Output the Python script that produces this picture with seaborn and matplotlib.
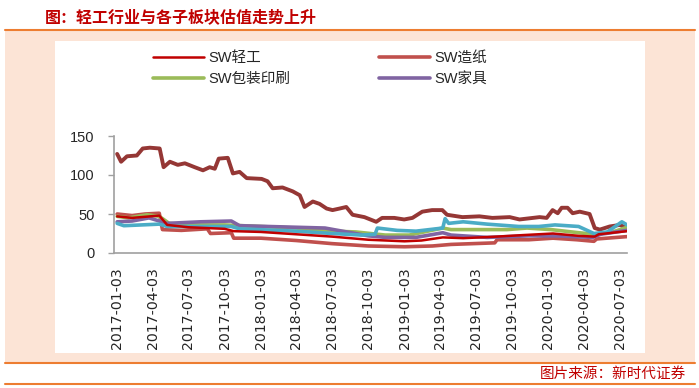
import pandas as pd
import matplotlib
matplotlib.use('Agg')
import matplotlib.pyplot as plt
from matplotlib.patches import Rectangle
from matplotlib.lines import Line2D
import seaborn as sns

# --- data (PE, TTM) ---
qinggong_dates = ['2017-01-03', '2017-02-10', '2017-04-20', '2017-05-10', '2017-07-03', '2017-10-03',
                  '2017-10-26', '2018-01-03', '2018-04-03', '2018-07-03', '2018-10-03', '2019-01-03',
                  '2019-02-15', '2019-04-10', '2019-06-01', '2019-08-25', '2019-11-01', '2020-01-15',
                  '2020-03-20', '2020-04-30', '2020-05-10', '2020-07-21']
qinggong_vals = [47, 45, 48, 36, 33, 31, 28, 27, 24, 21, 17, 15, 16, 20, 19, 21, 23, 25, 22, 21, 24, 28]

zaozhi_dates = ['2017-01-03', '2017-02-10', '2017-03-15', '2017-04-20', '2017-04-28', '2017-06-15',
                '2017-08-20', '2017-08-28', '2017-10-20', '2017-10-26', '2018-01-03', '2018-04-03',
                '2018-07-03', '2018-10-03', '2019-01-03', '2019-03-15', '2019-05-01', '2019-08-20',
                '2019-08-26', '2019-11-15', '2020-01-15', '2020-03-15', '2020-04-28', '2020-05-05',
                '2020-07-21']
zaozhi_vals = [50, 48, 50, 51, 30, 29, 31, 25, 26, 19, 19, 16, 12, 9, 8, 9, 11, 13, 17, 17, 19, 17, 15, 18, 21]

baozhuang_dates = ['2017-01-03', '2017-02-01', '2017-03-20', '2017-04-20', '2017-05-15', '2017-07-03',
                   '2017-10-03', '2018-01-03', '2018-04-03', '2018-07-03', '2018-09-01', '2018-11-15',
                   '2019-01-15', '2019-04-10', '2019-05-01', '2019-09-20', '2019-11-10', '2020-01-10',
                   '2020-03-20', '2020-05-01', '2020-06-15', '2020-07-21']
baozhuang_vals = [47, 45, 49, 47, 38, 36, 36, 34, 32, 28, 27, 23, 23, 32, 30, 30, 32, 30, 26, 24, 27, 33]

jiaju_dates = ['2017-01-03', '2017-02-10', '2017-03-25', '2017-05-10', '2017-08-03', '2017-10-20',
               '2017-11-10', '2018-04-03', '2018-06-15', '2018-08-20', '2018-10-03', '2018-11-15',
               '2019-02-01', '2019-04-10', '2019-05-01', '2019-08-01', '2019-11-15', '2020-01-20',
               '2020-04-25', '2020-05-15', '2020-07-21']
jiaju_vals = [40, 41, 45, 38, 40, 41, 35, 33, 32, 26, 22, 20, 20, 26, 23, 20, 22, 22, 20, 24, 29]

# unlabelled series (legend only shows four)
cyan_dates = ['2017-01-03', '2017-01-20', '2017-04-20', '2017-05-10', '2017-10-20', '2017-11-10',
              '2018-04-03', '2018-07-03', '2018-09-15', '2018-10-20', '2018-10-26', '2018-12-15',
              '2019-02-01', '2019-04-10', '2019-04-16', '2019-04-25', '2019-06-01', '2019-08-01',
              '2019-10-20', '2019-12-10', '2020-01-20', '2020-03-20', '2020-04-28', '2020-06-01',
              '2020-07-08', '2020-07-21']
cyan_vals = [38, 35, 37, 34, 34, 31, 28, 25, 23, 24, 32, 29, 28, 32, 44, 38, 40, 37, 34, 34, 36, 34, 25, 27, 40, 36]

brown_dates = ['2017-01-03', '2017-01-13', '2017-01-28', '2017-02-22', '2017-03-09', '2017-03-27',
               '2017-04-21', '2017-05-01', '2017-05-17', '2017-06-06', '2017-06-24', '2017-07-19',
               '2017-08-09', '2017-08-26', '2017-09-08', '2017-09-18', '2017-10-11', '2017-10-24',
               '2017-11-10', '2017-11-28', '2018-01-05', '2018-01-20', '2018-02-02', '2018-02-27',
               '2018-03-25', '2018-04-12', '2018-04-24', '2018-05-15', '2018-06-01', '2018-06-19',
               '2018-07-04', '2018-07-22', '2018-08-08', '2018-08-24', '2018-09-23', '2018-10-13',
               '2018-10-23', '2018-11-07', '2018-12-08', '2019-01-02', '2019-01-23', '2019-02-17',
               '2019-03-14', '2019-04-09', '2019-04-21', '2019-05-30', '2019-07-12', '2019-08-14',
               '2019-09-27', '2019-10-22', '2019-12-12', '2019-12-30', '2020-01-14', '2020-01-27',
               '2020-02-06', '2020-02-21', '2020-03-05', '2020-03-23', '2020-04-17', '2020-04-30',
               '2020-05-13', '2020-06-07', '2020-07-03', '2020-07-21']
brown_vals = [127, 117, 124, 125, 134, 135, 134, 110, 117, 113, 115, 110,
              106, 110, 108, 121, 122, 102, 104, 96, 95, 92, 83, 84,
              79, 74, 59, 66, 63, 57, 55, 57, 59, 49, 46, 42,
              40, 45, 45, 43, 45, 53, 55, 55, 49, 46, 47, 45,
              46, 43, 46, 45, 55, 51, 58, 58, 51, 53, 50, 32,
              30, 34, 36, 32]

tick_labels = ['2017-01-03', '2017-04-03', '2017-07-03', '2017-10-03', '2018-01-03', '2018-04-03',
               '2018-07-03', '2018-10-03', '2019-01-03', '2019-04-03', '2019-07-03', '2019-10-03',
               '2020-01-03', '2020-04-03', '2020-07-03']

title = '图：轻工行业与各子板块估值走势上升'
source = '图片来源：新时代证券'

sns.set_style('white')
plt.rcParams['font.family'] = ['Liberation Sans', 'Noto Sans CJK SC', 'DejaVu Sans']

W, H = 699, 388
fig = plt.figure(figsize=(W / 100, H / 100), dpi=100, facecolor='white')


def fx(px):
    return px / W


def fy(py):
    return 1 - py / H


# report frame: orange rules, peach band, white chart panel (behind the axes)
orange = '#ED7D31'
peach = '#FCE4D6'
fig.patches.append(Rectangle((fx(5), fy(363)), fx(690), 332 / H, transform=fig.transFigure,
                             facecolor=peach, edgecolor='none', zorder=-10))
fig.patches.append(Rectangle((fx(55), fy(353)), fx(590), 312 / H, transform=fig.transFigure,
                             facecolor='white', edgecolor='none', zorder=-9))
for yy in (30, 363, 384):
    fig.lines.append(Line2D([fx(5), fx(695)], [fy(yy), fy(yy)], transform=fig.transFigure,
                            color=orange, lw=1.5, zorder=-8))

fig.text(fx(45), fy(17), title, fontsize=11.5, fontweight='bold', color='#C00000',
         family=['Noto Sans CJK SC'], va='center', ha='left')
fig.text(fx(686), fy(374), source, fontsize=10.5, color='#C00000',
         family=['Noto Sans CJK SC'], va='center', ha='right')

ax = fig.add_axes([fx(114), fy(253), fx(627) - fx(114), (253 - 136) / H])
ax.set_facecolor('none')

series = [
    (brown_dates, brown_vals, '#953735', 2.8, None),
    (zaozhi_dates, zaozhi_vals, '#C0504D', 2.6, 'SW造纸'),
    (baozhuang_dates, baozhuang_vals, '#9BBB59', 2.6, 'SW包装印刷'),
    (jiaju_dates, jiaju_vals, '#8064A2', 2.6, 'SW家具'),
    (cyan_dates, cyan_vals, '#4BACC6', 2.6, None),
    (qinggong_dates, qinggong_vals, '#C00000', 1.8, 'SW轻工'),
]
for d, v, c, lw, lab in series:
    sns.lineplot(x=pd.to_datetime(d), y=v, color=c, lw=lw, ax=ax, label=lab, legend=False)

ax.set_ylim(0, 150)
ax.set_yticks([0, 50, 100, 150])
ax.set_xlim(pd.Timestamp('2016-12-26'), pd.Timestamp('2020-07-21'))
ax.set_xticks(pd.to_datetime(tick_labels))
ax.set_xticklabels(tick_labels, rotation=90, family='DejaVu Sans', fontsize=10.2)
ax.tick_params(axis='y', labelsize=10.5, length=4, width=1, color='#A0A0A0', pad=10, left=True)
ax.tick_params(axis='x', length=0, pad=10)
for s in ('top', 'right'):
    ax.spines[s].set_visible(False)
for s in ('left', 'bottom'):
    ax.spines[s].set_color('#A0A0A0')
    ax.spines[s].set_linewidth(1.2)
ax.set_xlabel('')
ax.set_ylabel('')

# legend: only four named indices, two columns
handles, labels = ax.get_legend_handles_labels()
lookup = dict(zip(labels, handles))
order = ['SW轻工', 'SW包装印刷', 'SW造纸', 'SW家具']
fig.legend([lookup[k] for k in order], order, loc='upper left', bbox_to_anchor=(fx(153), fy(51)),
           ncol=2, frameon=False, fontsize=10.5, handlelength=3.5, handletextpad=0.3,
           columnspacing=6.1, labelspacing=0.5, borderpad=0, borderaxespad=0)

fig.savefig('out.png', dpi=100, facecolor='white')
